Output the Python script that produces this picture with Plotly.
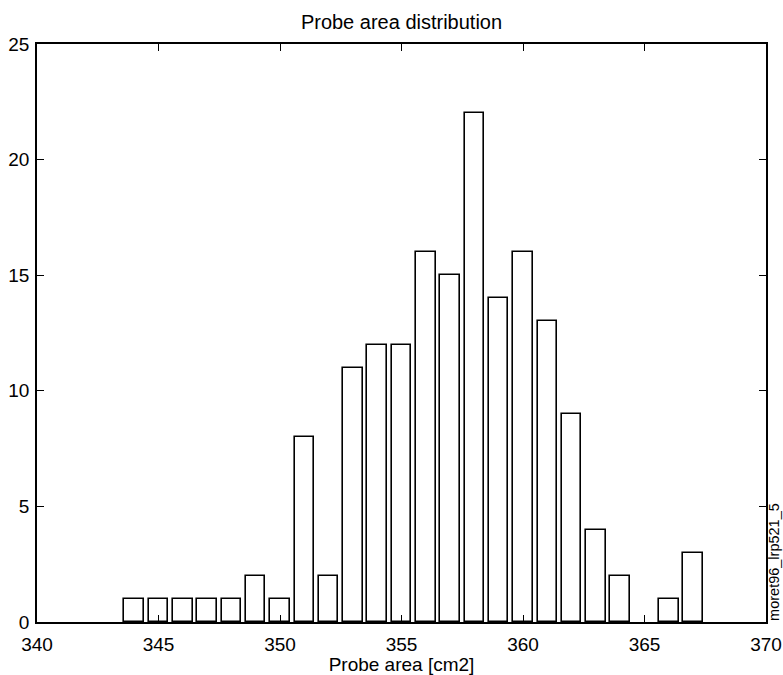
import plotly.graph_objects as go

# Histogram of probe areas: bin centres [cm2] and counts per bin
bin_centers = [344, 345, 346, 347, 348, 349, 350, 351, 352, 353, 354, 355,
               356, 357, 358, 359, 360, 361, 362, 363, 364, 365, 366, 367]
counts = [1, 1, 1, 1, 1, 2, 1, 8, 2, 11, 12, 12,
          16, 15, 22, 14, 16, 13, 9, 4, 2, 0, 1, 3]

x_ticks = [340, 345, 350, 355, 360, 365, 370]
y_ticks = [0, 5, 10, 15, 20, 25]

FONT = "Liberation Sans, Arial, Helvetica, sans-serif"

# empty bins get no outline so nothing is drawn on the baseline
outline_widths = [1.6 if c > 0 else 0 for c in counts]

fig = go.Figure(
    go.Bar(
        x=bin_centers,
        y=counts,
        width=0.8,
        marker=dict(color="white", line=dict(color="black", width=outline_widths)),
    )
)

axis_common = dict(
    showgrid=False,
    zeroline=False,
    showline=True,
    linecolor="black",
    linewidth=1.5,
    mirror="allticks",
    ticks="inside",
    ticklen=7,
    tickwidth=1.2,
    tickcolor="black",
    tickfont=dict(family=FONT, size=19, color="black"),
)

fig.update_layout(
    width=783,
    height=675,
    margin=dict(l=37, r=17, t=44, b=53, autoexpand=False),
    paper_bgcolor="white",
    plot_bgcolor="white",
    showlegend=False,
    bargap=0,
    title=dict(
        text="Probe area distribution",
        x=0.5 * (37 + 766) / 783,
        xanchor="center",
        y=1 - 22 / 675,
        yanchor="middle",
        font=dict(family=FONT, size=20, color="black"),
    ),
    xaxis=dict(
        range=[340, 370],
        tickvals=x_ticks,
        ticktext=[str(v) for v in x_ticks],
        ticklabelstandoff=4,
        title=dict(text="Probe area [cm2]", standoff=0,
                   font=dict(family=FONT, size=19, color="black")),
        **axis_common,
    ),
    yaxis=dict(
        range=[0, 25],
        tickvals=y_ticks,
        ticktext=[str(v) for v in y_ticks],
        ticklabelstandoff=2,
        **axis_common,
    ),
    annotations=[
        dict(
            text="moret96_lrp521_5",
            textangle=-90,
            xref="paper",
            yref="paper",
            x=1.011,
            y=0.104,
            xanchor="center",
            yanchor="middle",
            showarrow=False,
            font=dict(family=FONT, size=14.5, color="black"),
        )
    ],
)

fig.write_html("out.html")
